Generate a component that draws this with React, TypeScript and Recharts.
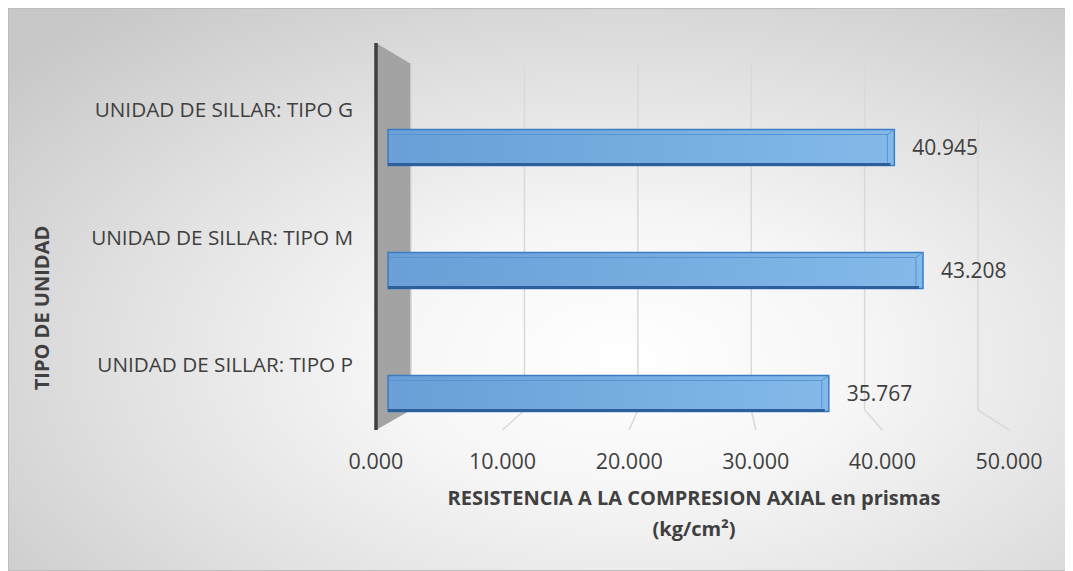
import React from "react";
import {
  Bar,
  BarChart,
  ComposedChart,
  LabelList,
  ReferenceArea,
  ReferenceLine,
  XAxis,
  YAxis,
} from "recharts";

const categories = [
  "UNIDAD DE SILLAR: TIPO G",
  "UNIDAD DE SILLAR: TIPO M",
  "UNIDAD DE SILLAR: TIPO P",
];
const resistance = [40.945, 43.208, 35.767];
const xTicks = [0, 10, 20, 30, 40, 50];

const data = categories.map((name, i) => ({ name, value: resistance[i] }));

// 3D look: a "back" value axis (gridlines) and a "depth" axis (wall height)
const FRONT_DOMAIN: [number, number] = [0, 50];
const BACK_DOMAIN: [number, number] = [-3.09, 52.73];
const DEPTH_DOMAIN: [number, number] = [-24.5, 387];
const FLOOR_FRONT = 0;
const FLOOR_BACK = 20;
const BACK_TOP = 366;
const WALL_TOP = 387;

const W = 1065;
const H = 563;
const MARGIN = { top: 35, right: 64, bottom: 86.5, left: 88 };
const LABEL_W = 280;
const XAXIS_H = 30;

const FONT = "'Open Sans', 'Noto Sans', sans-serif";
const TEXT = "#404040";

const frontInBack = (v: number) =>
  BACK_DOMAIN[0] +
  ((v - FRONT_DOMAIN[0]) / (FRONT_DOMAIN[1] - FRONT_DOMAIN[0])) *
    (BACK_DOMAIN[1] - BACK_DOMAIN[0]);

const WallShape = (props: any) => {
  const { x, y, width, height } = props;
  const k = height / (WALL_TOP - FLOOR_FRONT);
  const top = (WALL_TOP - BACK_TOP) * k;
  const bottom = (FLOOR_BACK - FLOOR_FRONT) * k;
  const pts = [
    [x, y],
    [x + width, y + top],
    [x + width, y + height - bottom],
    [x, y + height],
  ]
    .map((p) => p.join(","))
    .join(" ");
  return <polygon points={pts} fill="#a3a3a3" />;
};

const Bar3D = (props: any) => {
  const { x, y, width, height } = props;
  const x0 = x + 12;
  const w = width - 12;
  if (w <= 0) return null;
  return (
    <g>
      <rect x={x0} y={y} width={w} height={height} fill="url(#barFace)" stroke="#3b7cc6" strokeWidth={1.5} />
      <line x1={x0 + 1} y1={y + 5} x2={x0 + w - 7} y2={y + 5} stroke="#5b93d0" strokeWidth={1} />
      <line x1={x0 + w - 7} y1={y + 5} x2={x0 + w - 7} y2={y + height - 3} stroke="#5b93d0" strokeWidth={1} />
      <line x1={x0 + w - 7} y1={y + 5} x2={x0 + w} y2={y} stroke="#5b93d0" strokeWidth={1} />
      <rect x={x0} y={y + height - 2.5} width={w - 4} height={3} fill="#2d5f9c" />
    </g>
  );
};

const XTick = (props: any) => {
  const { x, y, payload } = props;
  return (
    <text x={x} y={y} dy={6} textAnchor="middle" fill={TEXT} fontSize={21.5} fontFamily={FONT}>
      {Number(payload.value).toFixed(3)}
    </text>
  );
};

const YTick = (props: any) => {
  const { x, y, payload } = props;
  return (
    <text x={x} y={y} dy={7} textAnchor="end" fill={TEXT} fontSize={20.7} fontFamily={FONT}>
      {payload.value}
    </text>
  );
};

function Backdrop() {
  return (
    <ComposedChart
      width={W}
      height={H}
      data={data}
      margin={{
        top: MARGIN.top,
        right: MARGIN.right,
        bottom: MARGIN.bottom + XAXIS_H,
        left: MARGIN.left + LABEL_W,
      }}
    >
      <XAxis xAxisId="front" type="number" dataKey="value" domain={FRONT_DOMAIN} allowDataOverflow hide height={0} />
      <XAxis xAxisId="back" type="number" dataKey="value" domain={BACK_DOMAIN} allowDataOverflow hide height={0} />
      <YAxis yAxisId="depth" type="number" dataKey="value" domain={DEPTH_DOMAIN} allowDataOverflow hide width={0} />
      <ReferenceArea
        xAxisId="back"
        yAxisId="depth"
        x1={BACK_DOMAIN[0]}
        x2={0}
        y1={FLOOR_FRONT}
        y2={WALL_TOP}
        shape={<WallShape />}
        ifOverflow="visible"
      />
      {xTicks.map((v) => (
        <ReferenceLine
          key={`back-${v}`}
          xAxisId="back"
          yAxisId="depth"
          segment={[
            { x: v, y: FLOOR_BACK },
            { x: v, y: BACK_TOP },
          ]}
          stroke="#d9d9d9"
          strokeWidth={1.5}
          ifOverflow="visible"
        />
      ))}
      {xTicks.slice(1).map((v) => (
        <ReferenceLine
          key={`floor-${v}`}
          xAxisId="back"
          yAxisId="depth"
          segment={[
            { x: v, y: FLOOR_BACK },
            { x: frontInBack(v), y: FLOOR_FRONT },
          ]}
          stroke="#d9d9d9"
          strokeWidth={1.5}
          ifOverflow="visible"
        />
      ))}
      <ReferenceLine
        xAxisId="front"
        yAxisId="depth"
        segment={[
          { x: 0, y: FLOOR_FRONT },
          { x: 0, y: WALL_TOP },
        ]}
        stroke="#3f3f3f"
        strokeWidth={3.5}
        ifOverflow="visible"
      />
    </ComposedChart>
  );
}

export default function App() {
  return (
    <div
      style={{
        position: "relative",
        width: W,
        height: H,
        background:
          "radial-gradient(ellipse 75% 80% at 58% 62%, #ffffff 0%, #f6f6f6 30%, #e2e2e2 62%, #c8c8c8 100%)",
        boxShadow: "inset 0 0 0 1px #bdbdbd",
        fontFamily: FONT,
      }}
    >
      <div style={{ position: "absolute", left: 0, top: 0 }}>
        <Backdrop />
      </div>
      <div style={{ position: "absolute", left: 0, top: 0 }}>
        <BarChart width={W} height={H} data={data} layout="vertical" margin={MARGIN}>
          <defs>
            <linearGradient id="barFace" x1="0" y1="0" x2="1" y2="0">
              <stop offset="0%" stopColor="#6a9fd7" />
              <stop offset="100%" stopColor="#84b9ea" />
            </linearGradient>
          </defs>
          <XAxis
            type="number"
            domain={FRONT_DOMAIN}
            ticks={xTicks}
            axisLine={false}
            tickLine={false}
            tick={<XTick />}
            height={XAXIS_H}
          />
          <YAxis
            yAxisId="labels"
            type="category"
            dataKey="name"
            width={LABEL_W}
            axisLine={false}
            tickLine={false}
            tickMargin={17}
            tick={<YTick />}
            padding={{ top: 3, bottom: 25.5 }}
          />
          <YAxis
            yAxisId="bars"
            type="category"
            dataKey="name"
            hide
            width={0}
            padding={{ top: 42.5, bottom: 0 }}
          />
          <Bar
            dataKey="value"
            yAxisId="bars"
            barSize={36}
            shape={<Bar3D />}
            isAnimationActive={false}
          >
            <LabelList
              dataKey="value"
              position="right"
              offset={18}
              formatter={(v: any) => Number(v).toFixed(3)}
              fill={TEXT}
              fontSize={21}
              fontFamily={FONT}
            />
          </Bar>
        </BarChart>
      </div>

      <div
        style={{
          position: "absolute",
          left: 42 - 8 - 150,
          top: 308 - 8 - 14,
          width: 300,
          height: 28,
          lineHeight: "28px",
          textAlign: "center",
          transform: "rotate(-90deg)",
          fontWeight: 700,
          fontSize: 20,
          color: TEXT,
          whiteSpace: "nowrap",
        }}
      >
        TIPO DE UNIDAD
      </div>
      <div
        style={{
          position: "absolute",
          left: 694 - 8 - 350,
          top: 474,
          width: 700,
          textAlign: "center",
          fontWeight: 700,
          fontSize: 20,
          lineHeight: "31px",
          color: TEXT,
        }}
      >
        RESISTENCIA A LA COMPRESION AXIAL en prismas
        <br />
        (kg/cm²)
      </div>
    </div>
  );
}
